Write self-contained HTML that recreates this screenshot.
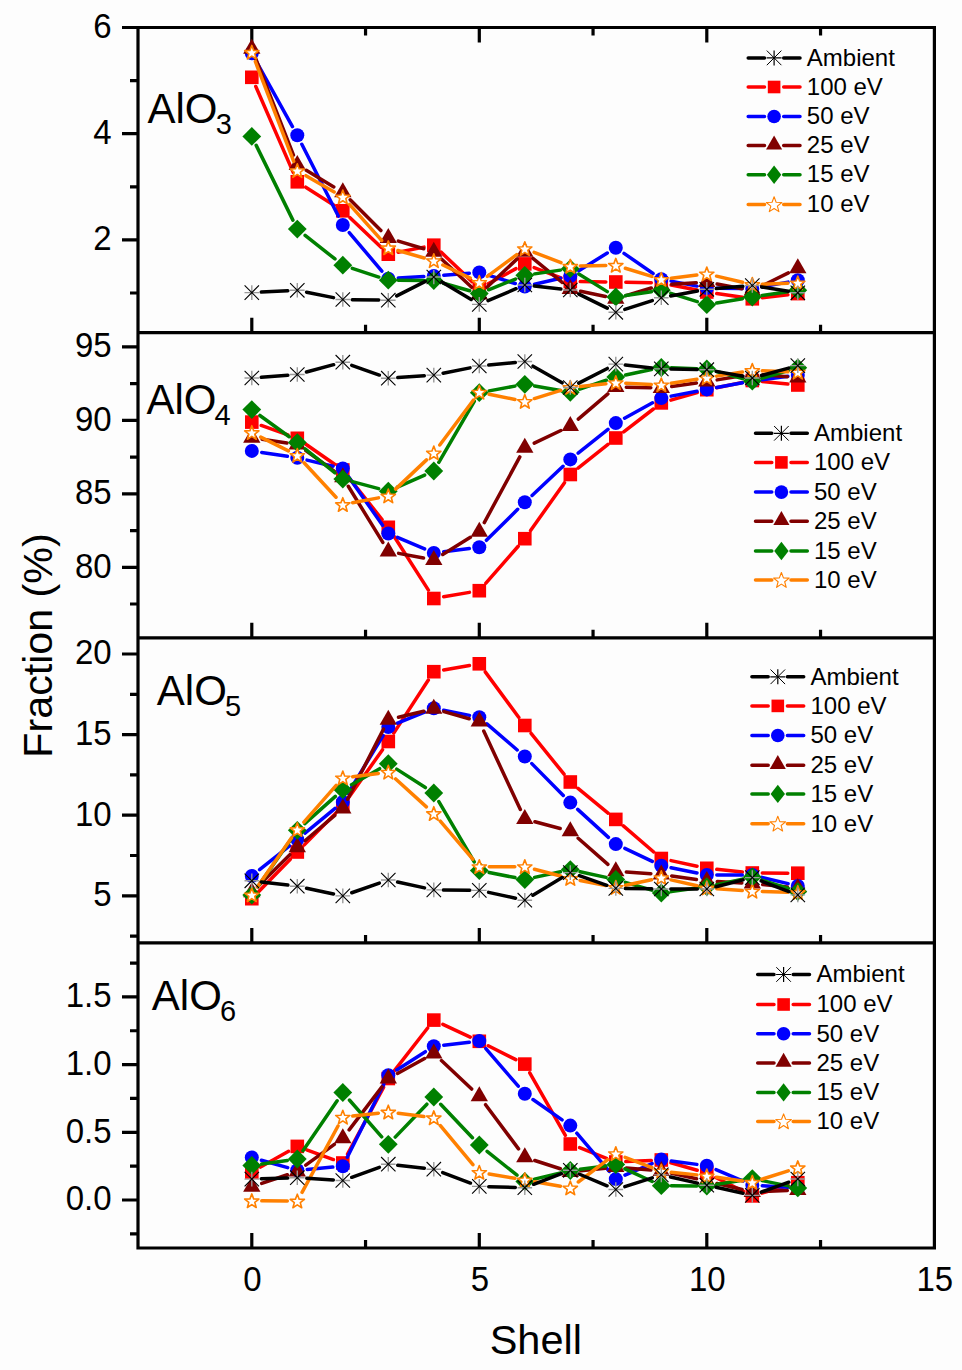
<!DOCTYPE html>
<html><head><meta charset="utf-8"><style>html,body{margin:0;padding:0;background:#fdfdfd;}svg{display:block;}</style></head>
<body><svg width="962" height="1370" viewBox="0 0 962 1370">
<rect width="962" height="1370" fill="#fdfdfd"/>
<path d="M138.0,27.5V1249.5M934.4,26.0V1249.5M136.5,27.5H935.9M136.5,332.7H935.9M136.5,637.8H935.9M136.5,942.9H935.9M136.5,1248.0H935.9M251.80,332.7v-15M479.30,332.7v-15M706.80,332.7v-15M365.55,332.7v-8M593.05,332.7v-8M820.55,332.7v-8M251.80,637.8v-15M479.30,637.8v-15M706.80,637.8v-15M365.55,637.8v-8M593.05,637.8v-8M820.55,637.8v-8M251.80,942.9v-15M479.30,942.9v-15M706.80,942.9v-15M365.55,942.9v-8M593.05,942.9v-8M820.55,942.9v-8M251.80,1248.0v-15M479.30,1248.0v-15M706.80,1248.0v-15M365.55,1248.0v-8M593.05,1248.0v-8M820.55,1248.0v-8M251.80,27.5v15M479.30,27.5v15M706.80,27.5v15M365.55,27.5v8M593.05,27.5v8M820.55,27.5v8M138.0,27.5H122.0M138.0,133.7H122.0M138.0,239.9H122.0M138.0,80.6H130.0M138.0,186.8H130.0M138.0,293.0H130.0M138.0,346.9H122.0M138.0,420.4H122.0M138.0,493.8H122.0M138.0,567.3H122.0M138.0,383.6H130.0M138.0,457.1H130.0M138.0,530.6H130.0M138.0,604.0H130.0M138.0,654.0H122.0M138.0,734.6H122.0M138.0,815.2H122.0M138.0,895.8H122.0M138.0,694.3H130.0M138.0,774.9H130.0M138.0,855.5H130.0M138.0,936.1H130.0M138.0,996.9H122.0M138.0,1064.6H122.0M138.0,1132.3H122.0M138.0,1200.0H122.0M138.0,963.05H130.0M138.0,1030.75H130.0M138.0,1098.45H130.0M138.0,1166.15H130.0M138.0,1233.85H130.0" stroke="#000" stroke-width="3.2" fill="none"/>
<g>
<path d="M255.79,86.47L293.31,172.63M305.73,187.17L334.37,205.43M350.04,217.70L381.06,247.30M398.11,252.26L423.99,247.14M441.04,252.09L472.06,281.61M488.10,283.74L516.00,268.66M534.13,267.51L560.97,277.89M580.30,281.61L605.80,281.89M625.80,282.22L651.30,282.78M671.11,284.94L696.99,290.06M716.69,293.48L742.41,297.32M762.24,297.66L787.86,294.74" stroke="#ff0000" stroke-width="3.5" fill="none" stroke-linecap="round"/>
<rect x="245.00" y="70.50" width="13.60" height="13.60" fill="#ff0000"/>
<rect x="290.50" y="175.00" width="13.60" height="13.60" fill="#ff0000"/>
<rect x="336.00" y="204.00" width="13.60" height="13.60" fill="#ff0000"/>
<rect x="381.50" y="247.40" width="13.60" height="13.60" fill="#ff0000"/>
<rect x="427.00" y="238.40" width="13.60" height="13.60" fill="#ff0000"/>
<rect x="472.50" y="281.70" width="13.60" height="13.60" fill="#ff0000"/>
<rect x="518.00" y="257.10" width="13.60" height="13.60" fill="#ff0000"/>
<rect x="563.50" y="274.70" width="13.60" height="13.60" fill="#ff0000"/>
<rect x="609.00" y="275.20" width="13.60" height="13.60" fill="#ff0000"/>
<rect x="654.50" y="276.20" width="13.60" height="13.60" fill="#ff0000"/>
<rect x="700.00" y="285.20" width="13.60" height="13.60" fill="#ff0000"/>
<rect x="745.50" y="292.00" width="13.60" height="13.60" fill="#ff0000"/>
<rect x="791.00" y="286.80" width="13.60" height="13.60" fill="#ff0000"/>
<path d="M256.65,62.04L292.45,126.56M301.82,144.22L338.28,216.08M349.26,232.63L381.84,271.07M398.28,278.11L423.82,276.59M443.77,275.21L469.33,273.19M488.85,275.36L515.25,283.54M534.54,284.25L560.56,278.25M578.79,270.72L607.31,252.98M624.02,253.39L653.08,273.51M671.12,281.10L696.98,286.10M716.80,288.15L742.30,288.55M762.13,286.88L787.97,282.12" stroke="#0000ff" stroke-width="3.5" fill="none" stroke-linecap="round"/>
<circle cx="251.80" cy="53.30" r="7.00" fill="#0000ff"/>
<circle cx="297.30" cy="135.30" r="7.00" fill="#0000ff"/>
<circle cx="342.80" cy="225.00" r="7.00" fill="#0000ff"/>
<circle cx="388.30" cy="278.70" r="7.00" fill="#0000ff"/>
<circle cx="433.80" cy="276.00" r="7.00" fill="#0000ff"/>
<circle cx="479.30" cy="272.40" r="7.00" fill="#0000ff"/>
<circle cx="524.80" cy="286.50" r="7.00" fill="#0000ff"/>
<circle cx="570.30" cy="276.00" r="7.00" fill="#0000ff"/>
<circle cx="615.80" cy="247.70" r="7.00" fill="#0000ff"/>
<circle cx="661.30" cy="279.20" r="7.00" fill="#0000ff"/>
<circle cx="706.80" cy="288.00" r="7.00" fill="#0000ff"/>
<circle cx="752.30" cy="288.70" r="7.00" fill="#0000ff"/>
<circle cx="797.80" cy="280.30" r="7.00" fill="#0000ff"/>
<path d="M255.63,58.48L293.47,155.12M306.29,170.32L333.81,186.88M350.21,199.74L380.89,230.56M398.35,241.05L423.75,248.75M441.46,258.99L471.64,287.31M486.95,287.31L517.15,258.89M532.92,258.36L562.18,282.34M580.57,291.19L605.53,296.51M625.85,295.67L651.25,288.03M671.78,284.33L696.32,282.77M717.12,284.03L741.98,288.67M761.73,285.98L788.37,272.92" stroke="#800000" stroke-width="3.5" fill="none" stroke-linecap="round"/>
<polygon points="251.80,38.70 260.46,53.70 243.14,53.70" fill="#800000"/>
<polygon points="297.30,154.90 305.96,169.90 288.64,169.90" fill="#800000"/>
<polygon points="342.80,182.30 351.46,197.30 334.14,197.30" fill="#800000"/>
<polygon points="388.30,228.00 396.96,243.00 379.64,243.00" fill="#800000"/>
<polygon points="433.80,241.80 442.46,256.80 425.14,256.80" fill="#800000"/>
<polygon points="479.30,284.50 487.96,299.50 470.64,299.50" fill="#800000"/>
<polygon points="524.80,241.70 533.46,256.70 516.14,256.70" fill="#800000"/>
<polygon points="570.30,279.00 578.96,294.00 561.64,294.00" fill="#800000"/>
<polygon points="615.80,288.70 624.46,303.70 607.14,303.70" fill="#800000"/>
<polygon points="661.30,275.00 669.96,290.00 652.64,290.00" fill="#800000"/>
<polygon points="706.80,272.10 715.46,287.10 698.14,287.10" fill="#800000"/>
<polygon points="752.30,280.60 760.96,295.60 743.64,295.60" fill="#800000"/>
<polygon points="797.80,258.30 806.46,273.30 789.14,273.30" fill="#800000"/>
<path d="M256.21,145.38L292.89,220.12M305.13,235.32L334.97,258.98M352.30,268.33L378.80,277.07M398.30,280.27L423.80,280.43M443.42,283.25L469.68,290.75M488.58,289.79L515.52,279.01M534.70,273.86L560.40,270.14M578.80,273.97L607.30,291.63M625.70,295.46L651.40,291.74M670.83,293.32L697.27,301.68M716.66,303.03L742.44,298.67M762.19,295.52L787.91,291.68" stroke="#008000" stroke-width="3.5" fill="none" stroke-linecap="round"/>
<polygon points="251.80,127.00 261.20,136.40 251.80,145.80 242.40,136.40" fill="#008000"/>
<polygon points="297.30,219.70 306.70,229.10 297.30,238.50 287.90,229.10" fill="#008000"/>
<polygon points="342.80,255.80 352.20,265.20 342.80,274.60 333.40,265.20" fill="#008000"/>
<polygon points="388.30,270.80 397.70,280.20 388.30,289.60 378.90,280.20" fill="#008000"/>
<polygon points="433.80,271.10 443.20,280.50 433.80,289.90 424.40,280.50" fill="#008000"/>
<polygon points="479.30,284.10 488.70,293.50 479.30,302.90 469.90,293.50" fill="#008000"/>
<polygon points="524.80,265.90 534.20,275.30 524.80,284.70 515.40,275.30" fill="#008000"/>
<polygon points="570.30,259.30 579.70,268.70 570.30,278.10 560.90,268.70" fill="#008000"/>
<polygon points="615.80,287.50 625.20,296.90 615.80,306.30 606.40,296.90" fill="#008000"/>
<polygon points="661.30,280.90 670.70,290.30 661.30,299.70 651.90,290.30" fill="#008000"/>
<polygon points="706.80,295.30 716.20,304.70 706.80,314.10 697.40,304.70" fill="#008000"/>
<polygon points="752.30,287.60 761.70,297.00 752.30,306.40 742.90,297.00" fill="#008000"/>
<polygon points="797.80,280.80 807.20,290.20 797.80,299.60 788.40,290.20" fill="#008000"/>
<path d="M255.39,61.63L293.71,161.37M305.96,175.70L334.14,192.00M349.47,204.45L381.63,240.35M397.92,250.53L424.18,257.97M442.83,265.00L470.27,278.10M487.34,276.45L516.76,254.65M534.13,252.31L560.97,262.69M580.30,266.08L605.80,265.52M625.35,268.26L651.75,276.44M671.23,278.20L696.87,275.10M716.54,276.17L742.56,282.23M762.29,284.15L787.81,283.25" stroke="#ff8000" stroke-width="3.5" fill="none" stroke-linecap="round"/>
<polygon points="251.80,45.40 253.65,50.35 258.93,50.58 254.80,53.87 256.21,58.97 251.80,56.05 247.39,58.97 248.80,53.87 244.67,50.58 249.95,50.35" fill="#ffffff" stroke="#ff8000" stroke-width="1.60" stroke-linejoin="round"/>
<polygon points="297.30,163.80 299.15,168.75 304.43,168.98 300.30,172.27 301.71,177.37 297.30,174.45 292.89,177.37 294.30,172.27 290.17,168.98 295.45,168.75" fill="#ffffff" stroke="#ff8000" stroke-width="1.60" stroke-linejoin="round"/>
<polygon points="342.80,190.10 344.65,195.05 349.93,195.28 345.80,198.57 347.21,203.67 342.80,200.75 338.39,203.67 339.80,198.57 335.67,195.28 340.95,195.05" fill="#ffffff" stroke="#ff8000" stroke-width="1.60" stroke-linejoin="round"/>
<polygon points="388.30,240.90 390.15,245.85 395.43,246.08 391.30,249.37 392.71,254.47 388.30,251.55 383.89,254.47 385.30,249.37 381.17,246.08 386.45,245.85" fill="#ffffff" stroke="#ff8000" stroke-width="1.60" stroke-linejoin="round"/>
<polygon points="433.80,253.80 435.65,258.75 440.93,258.98 436.80,262.27 438.21,267.37 433.80,264.45 429.39,267.37 430.80,262.27 426.67,258.98 431.95,258.75" fill="#ffffff" stroke="#ff8000" stroke-width="1.60" stroke-linejoin="round"/>
<polygon points="479.30,275.50 481.15,280.45 486.43,280.68 482.30,283.97 483.71,289.07 479.30,286.15 474.89,289.07 476.30,283.97 472.17,280.68 477.45,280.45" fill="#ffffff" stroke="#ff8000" stroke-width="1.60" stroke-linejoin="round"/>
<polygon points="524.80,241.80 526.65,246.75 531.93,246.98 527.80,250.27 529.21,255.37 524.80,252.45 520.39,255.37 521.80,250.27 517.67,246.98 522.95,246.75" fill="#ffffff" stroke="#ff8000" stroke-width="1.60" stroke-linejoin="round"/>
<polygon points="570.30,259.40 572.15,264.35 577.43,264.58 573.30,267.87 574.71,272.97 570.30,270.05 565.89,272.97 567.30,267.87 563.17,264.58 568.45,264.35" fill="#ffffff" stroke="#ff8000" stroke-width="1.60" stroke-linejoin="round"/>
<polygon points="615.80,258.40 617.65,263.35 622.93,263.58 618.80,266.87 620.21,271.97 615.80,269.05 611.39,271.97 612.80,266.87 608.67,263.58 613.95,263.35" fill="#ffffff" stroke="#ff8000" stroke-width="1.60" stroke-linejoin="round"/>
<polygon points="661.30,272.50 663.15,277.45 668.43,277.68 664.30,280.97 665.71,286.07 661.30,283.15 656.89,286.07 658.30,280.97 654.17,277.68 659.45,277.45" fill="#ffffff" stroke="#ff8000" stroke-width="1.60" stroke-linejoin="round"/>
<polygon points="706.80,267.00 708.65,271.95 713.93,272.18 709.80,275.47 711.21,280.57 706.80,277.65 702.39,280.57 703.80,275.47 699.67,272.18 704.95,271.95" fill="#ffffff" stroke="#ff8000" stroke-width="1.60" stroke-linejoin="round"/>
<polygon points="752.30,277.60 754.15,282.55 759.43,282.78 755.30,286.07 756.71,291.17 752.30,288.25 747.89,291.17 749.30,286.07 745.17,282.78 750.45,282.55" fill="#ffffff" stroke="#ff8000" stroke-width="1.60" stroke-linejoin="round"/>
<polygon points="797.80,276.00 799.65,280.95 804.93,281.18 800.80,284.47 802.21,289.57 797.80,286.65 793.39,289.57 794.80,284.47 790.67,281.18 795.95,280.95" fill="#ffffff" stroke="#ff8000" stroke-width="1.60" stroke-linejoin="round"/>
<path d="M261.29,292.12L287.81,290.78M306.61,292.18L333.49,297.62M352.30,299.65L378.80,300.05M396.76,295.88L425.34,281.32M441.94,281.90L471.16,299.50M488.04,300.67L516.06,288.73M534.24,286.04L560.86,288.96M578.83,294.18L607.27,308.12M624.85,309.40L652.25,300.60M670.64,295.98L697.46,291.02M716.27,288.51L742.83,286.29M761.68,287.00L788.42,291.30" stroke="#000000" stroke-width="3.5" fill="none" stroke-linecap="round"/>
<path d="M244.50,292.60L259.10,292.60M251.80,285.30L251.80,299.90" stroke="#9a9a9a" stroke-width="1.4"/><path d="M244.60,285.40L259.00,299.80M244.60,299.80L259.00,285.40" stroke="#000" stroke-width="1.1"/>
<path d="M290.00,290.30L304.60,290.30M297.30,283.00L297.30,297.60" stroke="#9a9a9a" stroke-width="1.4"/><path d="M290.10,283.10L304.50,297.50M290.10,297.50L304.50,283.10" stroke="#000" stroke-width="1.1"/>
<path d="M335.50,299.50L350.10,299.50M342.80,292.20L342.80,306.80" stroke="#9a9a9a" stroke-width="1.4"/><path d="M335.60,292.30L350.00,306.70M335.60,306.70L350.00,292.30" stroke="#000" stroke-width="1.1"/>
<path d="M381.00,300.20L395.60,300.20M388.30,292.90L388.30,307.50" stroke="#9a9a9a" stroke-width="1.4"/><path d="M381.10,293.00L395.50,307.40M381.10,307.40L395.50,293.00" stroke="#000" stroke-width="1.1"/>
<path d="M426.50,277.00L441.10,277.00M433.80,269.70L433.80,284.30" stroke="#9a9a9a" stroke-width="1.4"/><path d="M426.60,269.80L441.00,284.20M426.60,284.20L441.00,269.80" stroke="#000" stroke-width="1.1"/>
<path d="M472.00,304.40L486.60,304.40M479.30,297.10L479.30,311.70" stroke="#9a9a9a" stroke-width="1.4"/><path d="M472.10,297.20L486.50,311.60M472.10,311.60L486.50,297.20" stroke="#000" stroke-width="1.1"/>
<path d="M517.50,285.00L532.10,285.00M524.80,277.70L524.80,292.30" stroke="#9a9a9a" stroke-width="1.4"/><path d="M517.60,277.80L532.00,292.20M517.60,292.20L532.00,277.80" stroke="#000" stroke-width="1.1"/>
<path d="M563.00,290.00L577.60,290.00M570.30,282.70L570.30,297.30" stroke="#9a9a9a" stroke-width="1.4"/><path d="M563.10,282.80L577.50,297.20M563.10,297.20L577.50,282.80" stroke="#000" stroke-width="1.1"/>
<path d="M608.50,312.30L623.10,312.30M615.80,305.00L615.80,319.60" stroke="#9a9a9a" stroke-width="1.4"/><path d="M608.60,305.10L623.00,319.50M608.60,319.50L623.00,305.10" stroke="#000" stroke-width="1.1"/>
<path d="M654.00,297.70L668.60,297.70M661.30,290.40L661.30,305.00" stroke="#9a9a9a" stroke-width="1.4"/><path d="M654.10,290.50L668.50,304.90M654.10,304.90L668.50,290.50" stroke="#000" stroke-width="1.1"/>
<path d="M699.50,289.30L714.10,289.30M706.80,282.00L706.80,296.60" stroke="#9a9a9a" stroke-width="1.4"/><path d="M699.60,282.10L714.00,296.50M699.60,296.50L714.00,282.10" stroke="#000" stroke-width="1.1"/>
<path d="M745.00,285.50L759.60,285.50M752.30,278.20L752.30,292.80" stroke="#9a9a9a" stroke-width="1.4"/><path d="M745.10,278.30L759.50,292.70M745.10,292.70L759.50,278.30" stroke="#000" stroke-width="1.1"/>
<path d="M790.50,292.80L805.10,292.80M797.80,285.50L797.80,300.10" stroke="#9a9a9a" stroke-width="1.4"/><path d="M790.60,285.60L805.00,300.00M790.60,300.00L805.00,285.60" stroke="#000" stroke-width="1.1"/>
</g>
<g>
<path d="M261.22,425.45L287.88,434.95M305.51,444.02L334.59,464.28M349.02,477.83L382.08,519.47M393.68,535.73L428.42,590.07M443.66,596.81L469.44,592.39M485.89,583.17L518.21,546.23M530.58,530.54L564.52,482.66M578.10,468.24L608.00,444.26M623.72,431.89L653.38,409.01M670.90,400.11L697.20,392.49M716.60,387.72L742.50,382.48M762.25,381.48L787.85,384.02" stroke="#ff0000" stroke-width="3.5" fill="none" stroke-linecap="round"/>
<rect x="245.00" y="415.30" width="13.60" height="13.60" fill="#ff0000"/>
<rect x="290.50" y="431.50" width="13.60" height="13.60" fill="#ff0000"/>
<rect x="336.00" y="463.20" width="13.60" height="13.60" fill="#ff0000"/>
<rect x="381.50" y="520.50" width="13.60" height="13.60" fill="#ff0000"/>
<rect x="427.00" y="591.70" width="13.60" height="13.60" fill="#ff0000"/>
<rect x="472.50" y="583.90" width="13.60" height="13.60" fill="#ff0000"/>
<rect x="518.00" y="531.90" width="13.60" height="13.60" fill="#ff0000"/>
<rect x="563.50" y="467.70" width="13.60" height="13.60" fill="#ff0000"/>
<rect x="609.00" y="431.20" width="13.60" height="13.60" fill="#ff0000"/>
<rect x="654.50" y="396.10" width="13.60" height="13.60" fill="#ff0000"/>
<rect x="700.00" y="382.90" width="13.60" height="13.60" fill="#ff0000"/>
<rect x="745.50" y="373.70" width="13.60" height="13.60" fill="#ff0000"/>
<rect x="791.00" y="378.20" width="13.60" height="13.60" fill="#ff0000"/>
<path d="M261.69,452.40L287.41,456.30M307.03,460.09L333.07,466.21M348.53,476.69L382.57,525.31M397.50,537.42L424.60,548.98M443.73,551.68L469.37,548.52M486.41,540.27L517.69,509.33M532.08,495.44L563.02,466.26M578.12,453.16L607.98,429.34M624.56,418.27L652.54,402.83M671.13,396.14L696.97,391.26M716.63,387.58L742.47,382.82M762.21,379.69L787.89,376.31" stroke="#0000ff" stroke-width="3.5" fill="none" stroke-linecap="round"/>
<circle cx="251.80" cy="450.90" r="7.00" fill="#0000ff"/>
<circle cx="297.30" cy="457.80" r="7.00" fill="#0000ff"/>
<circle cx="342.80" cy="468.50" r="7.00" fill="#0000ff"/>
<circle cx="388.30" cy="533.50" r="7.00" fill="#0000ff"/>
<circle cx="433.80" cy="552.90" r="7.00" fill="#0000ff"/>
<circle cx="479.30" cy="547.30" r="7.00" fill="#0000ff"/>
<circle cx="524.80" cy="502.30" r="7.00" fill="#0000ff"/>
<circle cx="570.30" cy="459.40" r="7.00" fill="#0000ff"/>
<circle cx="615.80" cy="423.10" r="7.00" fill="#0000ff"/>
<circle cx="661.30" cy="398.00" r="7.00" fill="#0000ff"/>
<circle cx="706.80" cy="389.40" r="7.00" fill="#0000ff"/>
<circle cx="752.30" cy="381.00" r="7.00" fill="#0000ff"/>
<circle cx="797.80" cy="375.00" r="7.00" fill="#0000ff"/>
<path d="M262.18,439.25L286.92,442.95M305.82,450.64L334.28,471.16M348.29,486.25L382.81,542.45M398.62,553.35L423.48,558.05M442.72,554.47L470.38,537.33M484.30,522.56L519.80,456.94M534.28,443.18L560.82,430.52M578.27,419.17L607.83,393.83M626.30,387.23L650.80,387.77M671.70,386.54L696.40,383.06M717.16,379.87L741.94,375.73M762.77,374.81L787.33,376.69" stroke="#800000" stroke-width="3.5" fill="none" stroke-linecap="round"/>
<polygon points="251.80,427.70 260.46,442.70 243.14,442.70" fill="#800000"/>
<polygon points="297.30,434.50 305.96,449.50 288.64,449.50" fill="#800000"/>
<polygon points="342.80,467.30 351.46,482.30 334.14,482.30" fill="#800000"/>
<polygon points="388.30,541.40 396.96,556.40 379.64,556.40" fill="#800000"/>
<polygon points="433.80,550.00 442.46,565.00 425.14,565.00" fill="#800000"/>
<polygon points="479.30,521.80 487.96,536.80 470.64,536.80" fill="#800000"/>
<polygon points="524.80,437.70 533.46,452.70 516.14,452.70" fill="#800000"/>
<polygon points="570.30,416.00 578.96,431.00 561.64,431.00" fill="#800000"/>
<polygon points="615.80,377.00 624.46,392.00 607.14,392.00" fill="#800000"/>
<polygon points="661.30,378.00 669.96,393.00 652.64,393.00" fill="#800000"/>
<polygon points="706.80,371.60 715.46,386.60 698.14,386.60" fill="#800000"/>
<polygon points="752.30,364.00 760.96,379.00 743.64,379.00" fill="#800000"/>
<polygon points="797.80,367.50 806.46,382.50 789.14,382.50" fill="#800000"/>
<path d="M259.90,415.47L289.20,436.73M305.10,448.86L335.00,472.84M352.46,481.67L378.64,488.63M397.44,487.14L424.66,475.06M438.82,462.35L474.28,401.35M489.13,390.88L514.97,386.12M534.65,386.03L560.45,390.57M579.78,389.11L606.32,380.19M625.59,374.96L651.51,369.54M671.29,367.83L696.81,368.67M716.47,371.55L742.63,378.45M761.90,378.21L788.20,370.59" stroke="#008000" stroke-width="3.5" fill="none" stroke-linecap="round"/>
<polygon points="251.80,400.20 261.20,409.60 251.80,419.00 242.40,409.60" fill="#008000"/>
<polygon points="297.30,433.20 306.70,442.60 297.30,452.00 287.90,442.60" fill="#008000"/>
<polygon points="342.80,469.70 352.20,479.10 342.80,488.50 333.40,479.10" fill="#008000"/>
<polygon points="388.30,481.80 397.70,491.20 388.30,500.60 378.90,491.20" fill="#008000"/>
<polygon points="433.80,461.60 443.20,471.00 433.80,480.40 424.40,471.00" fill="#008000"/>
<polygon points="479.30,383.30 488.70,392.70 479.30,402.10 469.90,392.70" fill="#008000"/>
<polygon points="524.80,374.90 534.20,384.30 524.80,393.70 515.40,384.30" fill="#008000"/>
<polygon points="570.30,382.90 579.70,392.30 570.30,401.70 560.90,392.30" fill="#008000"/>
<polygon points="615.80,367.60 625.20,377.00 615.80,386.40 606.40,377.00" fill="#008000"/>
<polygon points="661.30,358.10 670.70,367.50 661.30,376.90 651.90,367.50" fill="#008000"/>
<polygon points="706.80,359.60 716.20,369.00 706.80,378.40 697.40,369.00" fill="#008000"/>
<polygon points="752.30,371.60 761.70,381.00 752.30,390.40 742.90,381.00" fill="#008000"/>
<polygon points="797.80,358.40 807.20,367.80 797.80,377.20 788.40,367.80" fill="#008000"/>
<path d="M260.74,437.08L288.36,450.92M304.09,462.74L336.01,497.26M352.63,502.74L378.47,497.86M395.57,489.13L426.53,459.87M439.79,444.99L473.31,400.21M489.10,394.20L515.00,399.50M534.36,398.56L560.74,390.44M580.24,386.45L605.86,383.75M625.79,383.18L651.31,384.42M671.18,383.34L696.92,379.26M716.68,376.14L742.42,372.06M762.29,370.87L787.81,371.83" stroke="#ff8000" stroke-width="3.5" fill="none" stroke-linecap="round"/>
<polygon points="251.80,425.70 253.65,430.65 258.93,430.88 254.80,434.17 256.21,439.27 251.80,436.35 247.39,439.27 248.80,434.17 244.67,430.88 249.95,430.65" fill="#ffffff" stroke="#ff8000" stroke-width="1.60" stroke-linejoin="round"/>
<polygon points="297.30,448.50 299.15,453.45 304.43,453.68 300.30,456.97 301.71,462.07 297.30,459.15 292.89,462.07 294.30,456.97 290.17,453.68 295.45,453.45" fill="#ffffff" stroke="#ff8000" stroke-width="1.60" stroke-linejoin="round"/>
<polygon points="342.80,497.70 344.65,502.65 349.93,502.88 345.80,506.17 347.21,511.27 342.80,508.35 338.39,511.27 339.80,506.17 335.67,502.88 340.95,502.65" fill="#ffffff" stroke="#ff8000" stroke-width="1.60" stroke-linejoin="round"/>
<polygon points="388.30,489.10 390.15,494.05 395.43,494.28 391.30,497.57 392.71,502.67 388.30,499.75 383.89,502.67 385.30,497.57 381.17,494.28 386.45,494.05" fill="#ffffff" stroke="#ff8000" stroke-width="1.60" stroke-linejoin="round"/>
<polygon points="433.80,446.10 435.65,451.05 440.93,451.28 436.80,454.57 438.21,459.67 433.80,456.75 429.39,459.67 430.80,454.57 426.67,451.28 431.95,451.05" fill="#ffffff" stroke="#ff8000" stroke-width="1.60" stroke-linejoin="round"/>
<polygon points="479.30,385.30 481.15,390.25 486.43,390.48 482.30,393.77 483.71,398.87 479.30,395.95 474.89,398.87 476.30,393.77 472.17,390.48 477.45,390.25" fill="#ffffff" stroke="#ff8000" stroke-width="1.60" stroke-linejoin="round"/>
<polygon points="524.80,394.60 526.65,399.55 531.93,399.78 527.80,403.07 529.21,408.17 524.80,405.25 520.39,408.17 521.80,403.07 517.67,399.78 522.95,399.55" fill="#ffffff" stroke="#ff8000" stroke-width="1.60" stroke-linejoin="round"/>
<polygon points="570.30,380.60 572.15,385.55 577.43,385.78 573.30,389.07 574.71,394.17 570.30,391.25 565.89,394.17 567.30,389.07 563.17,385.78 568.45,385.55" fill="#ffffff" stroke="#ff8000" stroke-width="1.60" stroke-linejoin="round"/>
<polygon points="615.80,375.80 617.65,380.75 622.93,380.98 618.80,384.27 620.21,389.37 615.80,386.45 611.39,389.37 612.80,384.27 608.67,380.98 613.95,380.75" fill="#ffffff" stroke="#ff8000" stroke-width="1.60" stroke-linejoin="round"/>
<polygon points="661.30,378.00 663.15,382.95 668.43,383.18 664.30,386.47 665.71,391.57 661.30,388.65 656.89,391.57 658.30,386.47 654.17,383.18 659.45,382.95" fill="#ffffff" stroke="#ff8000" stroke-width="1.60" stroke-linejoin="round"/>
<polygon points="706.80,370.80 708.65,375.75 713.93,375.98 709.80,379.27 711.21,384.37 706.80,381.45 702.39,384.37 703.80,379.27 699.67,375.98 704.95,375.75" fill="#ffffff" stroke="#ff8000" stroke-width="1.60" stroke-linejoin="round"/>
<polygon points="752.30,363.60 754.15,368.55 759.43,368.78 755.30,372.07 756.71,377.17 752.30,374.25 747.89,377.17 749.30,372.07 745.17,368.78 750.45,368.55" fill="#ffffff" stroke="#ff8000" stroke-width="1.60" stroke-linejoin="round"/>
<polygon points="797.80,365.30 799.65,370.25 804.93,370.48 800.80,373.77 802.21,378.87 797.80,375.95 793.39,378.87 794.80,373.77 790.67,370.48 795.95,370.25" fill="#ffffff" stroke="#ff8000" stroke-width="1.60" stroke-linejoin="round"/>
<path d="M261.27,377.27L287.83,375.23M306.47,372.02L333.63,364.68M351.76,365.35L379.34,375.05M397.78,377.55L424.32,375.75M443.12,373.24L469.98,367.86M488.75,365.07L515.35,362.43M533.05,366.21L562.05,382.79M578.75,383.16L607.35,368.44M625.25,365.10L651.85,367.90M670.80,369.07L697.30,369.53M716.15,371.40L742.95,376.30M761.47,375.50L788.63,368.10" stroke="#000000" stroke-width="3.5" fill="none" stroke-linecap="round"/>
<path d="M244.50,378.00L259.10,378.00M251.80,370.70L251.80,385.30" stroke="#9a9a9a" stroke-width="1.4"/><path d="M244.60,370.80L259.00,385.20M244.60,385.20L259.00,370.80" stroke="#000" stroke-width="1.1"/>
<path d="M290.00,374.50L304.60,374.50M297.30,367.20L297.30,381.80" stroke="#9a9a9a" stroke-width="1.4"/><path d="M290.10,367.30L304.50,381.70M290.10,381.70L304.50,367.30" stroke="#000" stroke-width="1.1"/>
<path d="M335.50,362.20L350.10,362.20M342.80,354.90L342.80,369.50" stroke="#9a9a9a" stroke-width="1.4"/><path d="M335.60,355.00L350.00,369.40M335.60,369.40L350.00,355.00" stroke="#000" stroke-width="1.1"/>
<path d="M381.00,378.20L395.60,378.20M388.30,370.90L388.30,385.50" stroke="#9a9a9a" stroke-width="1.4"/><path d="M381.10,371.00L395.50,385.40M381.10,385.40L395.50,371.00" stroke="#000" stroke-width="1.1"/>
<path d="M426.50,375.10L441.10,375.10M433.80,367.80L433.80,382.40" stroke="#9a9a9a" stroke-width="1.4"/><path d="M426.60,367.90L441.00,382.30M426.60,382.30L441.00,367.90" stroke="#000" stroke-width="1.1"/>
<path d="M472.00,366.00L486.60,366.00M479.30,358.70L479.30,373.30" stroke="#9a9a9a" stroke-width="1.4"/><path d="M472.10,358.80L486.50,373.20M472.10,373.20L486.50,358.80" stroke="#000" stroke-width="1.1"/>
<path d="M517.50,361.50L532.10,361.50M524.80,354.20L524.80,368.80" stroke="#9a9a9a" stroke-width="1.4"/><path d="M517.60,354.30L532.00,368.70M517.60,368.70L532.00,354.30" stroke="#000" stroke-width="1.1"/>
<path d="M563.00,387.50L577.60,387.50M570.30,380.20L570.30,394.80" stroke="#9a9a9a" stroke-width="1.4"/><path d="M563.10,380.30L577.50,394.70M563.10,394.70L577.50,380.30" stroke="#000" stroke-width="1.1"/>
<path d="M608.50,364.10L623.10,364.10M615.80,356.80L615.80,371.40" stroke="#9a9a9a" stroke-width="1.4"/><path d="M608.60,356.90L623.00,371.30M608.60,371.30L623.00,356.90" stroke="#000" stroke-width="1.1"/>
<path d="M654.00,368.90L668.60,368.90M661.30,361.60L661.30,376.20" stroke="#9a9a9a" stroke-width="1.4"/><path d="M654.10,361.70L668.50,376.10M654.10,376.10L668.50,361.70" stroke="#000" stroke-width="1.1"/>
<path d="M699.50,369.70L714.10,369.70M706.80,362.40L706.80,377.00" stroke="#9a9a9a" stroke-width="1.4"/><path d="M699.60,362.50L714.00,376.90M699.60,376.90L714.00,362.50" stroke="#000" stroke-width="1.1"/>
<path d="M745.00,378.00L759.60,378.00M752.30,370.70L752.30,385.30" stroke="#9a9a9a" stroke-width="1.4"/><path d="M745.10,370.80L759.50,385.20M745.10,385.20L759.50,370.80" stroke="#000" stroke-width="1.1"/>
<path d="M790.50,365.60L805.10,365.60M797.80,358.30L797.80,372.90" stroke="#9a9a9a" stroke-width="1.4"/><path d="M790.60,358.40L805.00,372.80M790.60,372.80L805.00,358.40" stroke="#000" stroke-width="1.1"/>
</g>
<g>
<path d="M258.78,891.54L290.32,859.16M304.33,844.89L335.77,813.11M348.56,797.83L382.54,749.67M393.76,733.12L428.34,680.08M443.65,669.99L469.45,665.51M485.24,671.85L518.86,717.45M531.07,733.29L564.03,774.21M578.03,788.35L608.07,813.05M623.38,825.92L653.72,851.98M671.08,860.61L697.02,866.19M716.75,869.33L742.35,871.97M762.30,873.04L787.80,873.16" stroke="#ff0000" stroke-width="3.5" fill="none" stroke-linecap="round"/>
<rect x="245.00" y="891.90" width="13.60" height="13.60" fill="#ff0000"/>
<rect x="290.50" y="845.20" width="13.60" height="13.60" fill="#ff0000"/>
<rect x="336.00" y="799.20" width="13.60" height="13.60" fill="#ff0000"/>
<rect x="381.50" y="734.70" width="13.60" height="13.60" fill="#ff0000"/>
<rect x="427.00" y="664.90" width="13.60" height="13.60" fill="#ff0000"/>
<rect x="472.50" y="657.00" width="13.60" height="13.60" fill="#ff0000"/>
<rect x="518.00" y="718.70" width="13.60" height="13.60" fill="#ff0000"/>
<rect x="563.50" y="775.20" width="13.60" height="13.60" fill="#ff0000"/>
<rect x="609.00" y="812.60" width="13.60" height="13.60" fill="#ff0000"/>
<rect x="654.50" y="851.70" width="13.60" height="13.60" fill="#ff0000"/>
<rect x="700.00" y="861.50" width="13.60" height="13.60" fill="#ff0000"/>
<rect x="745.50" y="866.20" width="13.60" height="13.60" fill="#ff0000"/>
<rect x="791.00" y="866.40" width="13.60" height="13.60" fill="#ff0000"/>
<path d="M259.60,869.74L289.50,845.76M305.02,833.14L335.08,808.36M347.99,793.45L383.11,735.55M397.55,723.20L424.55,712.10M443.61,710.24L469.49,715.36M486.88,723.83L517.22,749.97M531.82,763.62L563.28,795.48M577.69,809.34L608.41,837.36M624.83,848.39L652.27,861.41M671.10,867.70L697.00,873.00M716.80,875.00L742.30,875.00M762.02,877.35L788.08,883.65" stroke="#0000ff" stroke-width="3.5" fill="none" stroke-linecap="round"/>
<circle cx="251.80" cy="876.00" r="7.00" fill="#0000ff"/>
<circle cx="297.30" cy="839.50" r="7.00" fill="#0000ff"/>
<circle cx="342.80" cy="802.00" r="7.00" fill="#0000ff"/>
<circle cx="388.30" cy="727.00" r="7.00" fill="#0000ff"/>
<circle cx="433.80" cy="708.30" r="7.00" fill="#0000ff"/>
<circle cx="479.30" cy="717.30" r="7.00" fill="#0000ff"/>
<circle cx="524.80" cy="756.50" r="7.00" fill="#0000ff"/>
<circle cx="570.30" cy="802.60" r="7.00" fill="#0000ff"/>
<circle cx="615.80" cy="844.10" r="7.00" fill="#0000ff"/>
<circle cx="661.30" cy="865.70" r="7.00" fill="#0000ff"/>
<circle cx="706.80" cy="875.00" r="7.00" fill="#0000ff"/>
<circle cx="752.30" cy="875.00" r="7.00" fill="#0000ff"/>
<circle cx="797.80" cy="886.00" r="7.00" fill="#0000ff"/>
<path d="M259.27,884.92L289.83,854.68M305.30,840.50L334.80,815.40M347.59,799.26L383.51,729.14M398.50,717.31L423.60,711.19M443.90,711.56L469.20,718.74M483.74,731.11L520.36,809.49M534.94,821.74L560.16,828.56M578.19,838.23L607.91,864.37M626.28,872.01L650.82,873.69M671.69,875.91L696.41,879.49M717.28,881.58L741.82,882.92M762.75,884.51L787.35,886.89" stroke="#800000" stroke-width="3.5" fill="none" stroke-linecap="round"/>
<polygon points="251.80,882.30 260.46,897.30 243.14,897.30" fill="#800000"/>
<polygon points="297.30,837.30 305.96,852.30 288.64,852.30" fill="#800000"/>
<polygon points="342.80,798.60 351.46,813.60 334.14,813.60" fill="#800000"/>
<polygon points="388.30,709.80 396.96,724.80 379.64,724.80" fill="#800000"/>
<polygon points="433.80,698.70 442.46,713.70 425.14,713.70" fill="#800000"/>
<polygon points="479.30,711.60 487.96,726.60 470.64,726.60" fill="#800000"/>
<polygon points="524.80,809.00 533.46,824.00 516.14,824.00" fill="#800000"/>
<polygon points="570.30,821.30 578.96,836.30 561.64,836.30" fill="#800000"/>
<polygon points="615.80,861.30 624.46,876.30 607.14,876.30" fill="#800000"/>
<polygon points="661.30,864.40 669.96,879.40 652.64,879.40" fill="#800000"/>
<polygon points="706.80,871.00 715.46,886.00 698.14,886.00" fill="#800000"/>
<polygon points="752.30,873.50 760.96,888.50 743.64,888.50" fill="#800000"/>
<polygon points="797.80,877.90 806.46,892.90 789.14,892.90" fill="#800000"/>
<path d="M257.55,886.92L291.55,838.48M304.76,823.64L335.34,796.36M351.48,784.74L379.62,768.66M396.71,769.11L425.39,787.59M438.86,801.63L474.24,861.97M489.11,872.52L514.99,877.58M534.57,877.37L560.53,871.73M580.07,871.73L606.03,877.37M625.39,882.34L651.71,890.16M671.21,891.63L696.89,888.07M716.58,884.61L742.52,879.09M761.82,880.06L788.28,888.54" stroke="#008000" stroke-width="3.5" fill="none" stroke-linecap="round"/>
<polygon points="251.80,885.70 261.20,895.10 251.80,904.50 242.40,895.10" fill="#008000"/>
<polygon points="297.30,820.90 306.70,830.30 297.30,839.70 287.90,830.30" fill="#008000"/>
<polygon points="342.80,780.30 352.20,789.70 342.80,799.10 333.40,789.70" fill="#008000"/>
<polygon points="388.30,754.30 397.70,763.70 388.30,773.10 378.90,763.70" fill="#008000"/>
<polygon points="433.80,783.60 443.20,793.00 433.80,802.40 424.40,793.00" fill="#008000"/>
<polygon points="479.30,861.20 488.70,870.60 479.30,880.00 469.90,870.60" fill="#008000"/>
<polygon points="524.80,870.10 534.20,879.50 524.80,888.90 515.40,879.50" fill="#008000"/>
<polygon points="570.30,860.20 579.70,869.60 570.30,879.00 560.90,869.60" fill="#008000"/>
<polygon points="615.80,870.10 625.20,879.50 615.80,888.90 606.40,879.50" fill="#008000"/>
<polygon points="661.30,883.60 670.70,893.00 661.30,902.40 651.90,893.00" fill="#008000"/>
<polygon points="706.80,877.30 716.20,886.70 706.80,896.10 697.40,886.70" fill="#008000"/>
<polygon points="752.30,867.60 761.70,877.00 752.30,886.40 742.90,877.00" fill="#008000"/>
<polygon points="797.80,882.20 807.20,891.60 797.80,901.00 788.40,891.60" fill="#008000"/>
<path d="M257.52,886.70L291.58,837.80M303.91,822.09L336.19,785.41M352.72,776.66L378.38,773.44M395.70,778.93L426.40,806.87M440.31,821.19L472.79,859.11M489.30,866.70L514.80,866.70M534.48,869.21L560.62,875.99M580.11,880.42L605.99,885.48M625.58,885.31L651.52,879.79M671.05,879.91L697.05,885.79M716.78,888.70L742.32,890.50M762.30,891.51L787.80,892.29" stroke="#ff8000" stroke-width="3.5" fill="none" stroke-linecap="round"/>
<polygon points="251.80,888.00 253.65,892.95 258.93,893.18 254.80,896.47 256.21,901.57 251.80,898.65 247.39,901.57 248.80,896.47 244.67,893.18 249.95,892.95" fill="#ffffff" stroke="#ff8000" stroke-width="1.60" stroke-linejoin="round"/>
<polygon points="297.30,822.70 299.15,827.65 304.43,827.88 300.30,831.17 301.71,836.27 297.30,833.35 292.89,836.27 294.30,831.17 290.17,827.88 295.45,827.65" fill="#ffffff" stroke="#ff8000" stroke-width="1.60" stroke-linejoin="round"/>
<polygon points="342.80,771.00 344.65,775.95 349.93,776.18 345.80,779.47 347.21,784.57 342.80,781.65 338.39,784.57 339.80,779.47 335.67,776.18 340.95,775.95" fill="#ffffff" stroke="#ff8000" stroke-width="1.60" stroke-linejoin="round"/>
<polygon points="388.30,765.30 390.15,770.25 395.43,770.48 391.30,773.77 392.71,778.87 388.30,775.95 383.89,778.87 385.30,773.77 381.17,770.48 386.45,770.25" fill="#ffffff" stroke="#ff8000" stroke-width="1.60" stroke-linejoin="round"/>
<polygon points="433.80,806.70 435.65,811.65 440.93,811.88 436.80,815.17 438.21,820.27 433.80,817.35 429.39,820.27 430.80,815.17 426.67,811.88 431.95,811.65" fill="#ffffff" stroke="#ff8000" stroke-width="1.60" stroke-linejoin="round"/>
<polygon points="479.30,859.80 481.15,864.75 486.43,864.98 482.30,868.27 483.71,873.37 479.30,870.45 474.89,873.37 476.30,868.27 472.17,864.98 477.45,864.75" fill="#ffffff" stroke="#ff8000" stroke-width="1.60" stroke-linejoin="round"/>
<polygon points="524.80,859.80 526.65,864.75 531.93,864.98 527.80,868.27 529.21,873.37 524.80,870.45 520.39,873.37 521.80,868.27 517.67,864.98 522.95,864.75" fill="#ffffff" stroke="#ff8000" stroke-width="1.60" stroke-linejoin="round"/>
<polygon points="570.30,871.60 572.15,876.55 577.43,876.78 573.30,880.07 574.71,885.17 570.30,882.25 565.89,885.17 567.30,880.07 563.17,876.78 568.45,876.55" fill="#ffffff" stroke="#ff8000" stroke-width="1.60" stroke-linejoin="round"/>
<polygon points="615.80,880.50 617.65,885.45 622.93,885.68 618.80,888.97 620.21,894.07 615.80,891.15 611.39,894.07 612.80,888.97 608.67,885.68 613.95,885.45" fill="#ffffff" stroke="#ff8000" stroke-width="1.60" stroke-linejoin="round"/>
<polygon points="661.30,870.80 663.15,875.75 668.43,875.98 664.30,879.27 665.71,884.37 661.30,881.45 656.89,884.37 658.30,879.27 654.17,875.98 659.45,875.75" fill="#ffffff" stroke="#ff8000" stroke-width="1.60" stroke-linejoin="round"/>
<polygon points="706.80,881.10 708.65,886.05 713.93,886.28 709.80,889.57 711.21,894.67 706.80,891.75 702.39,894.67 703.80,889.57 699.67,886.28 704.95,886.05" fill="#ffffff" stroke="#ff8000" stroke-width="1.60" stroke-linejoin="round"/>
<polygon points="752.30,884.30 754.15,889.25 759.43,889.48 755.30,892.77 756.71,897.87 752.30,894.95 747.89,897.87 749.30,892.77 745.17,889.48 750.45,889.25" fill="#ffffff" stroke="#ff8000" stroke-width="1.60" stroke-linejoin="round"/>
<polygon points="797.80,885.70 799.65,890.65 804.93,890.88 800.80,894.17 802.21,899.27 797.80,896.35 793.39,899.27 794.80,894.17 790.67,890.88 795.95,890.65" fill="#ffffff" stroke="#ff8000" stroke-width="1.60" stroke-linejoin="round"/>
<path d="M261.23,881.92L287.87,885.08M306.59,888.18L333.51,893.92M351.77,892.77L379.33,883.13M397.58,882.02L424.52,887.88M443.30,890.00L469.80,890.30M488.59,892.40L515.51,898.20M532.92,895.27L562.18,877.53M579.27,875.72L606.83,885.28M625.30,888.53L651.80,888.87M670.80,889.00L697.30,889.00M716.02,886.69L743.08,879.91M761.18,880.98L788.92,891.52" stroke="#000000" stroke-width="3.5" fill="none" stroke-linecap="round"/>
<path d="M244.50,880.80L259.10,880.80M251.80,873.50L251.80,888.10" stroke="#9a9a9a" stroke-width="1.4"/><path d="M244.60,873.60L259.00,888.00M244.60,888.00L259.00,873.60" stroke="#000" stroke-width="1.1"/>
<path d="M290.00,886.20L304.60,886.20M297.30,878.90L297.30,893.50" stroke="#9a9a9a" stroke-width="1.4"/><path d="M290.10,879.00L304.50,893.40M290.10,893.40L304.50,879.00" stroke="#000" stroke-width="1.1"/>
<path d="M335.50,895.90L350.10,895.90M342.80,888.60L342.80,903.20" stroke="#9a9a9a" stroke-width="1.4"/><path d="M335.60,888.70L350.00,903.10M335.60,903.10L350.00,888.70" stroke="#000" stroke-width="1.1"/>
<path d="M381.00,880.00L395.60,880.00M388.30,872.70L388.30,887.30" stroke="#9a9a9a" stroke-width="1.4"/><path d="M381.10,872.80L395.50,887.20M381.10,887.20L395.50,872.80" stroke="#000" stroke-width="1.1"/>
<path d="M426.50,889.90L441.10,889.90M433.80,882.60L433.80,897.20" stroke="#9a9a9a" stroke-width="1.4"/><path d="M426.60,882.70L441.00,897.10M426.60,897.10L441.00,882.70" stroke="#000" stroke-width="1.1"/>
<path d="M472.00,890.40L486.60,890.40M479.30,883.10L479.30,897.70" stroke="#9a9a9a" stroke-width="1.4"/><path d="M472.10,883.20L486.50,897.60M472.10,897.60L486.50,883.20" stroke="#000" stroke-width="1.1"/>
<path d="M517.50,900.20L532.10,900.20M524.80,892.90L524.80,907.50" stroke="#9a9a9a" stroke-width="1.4"/><path d="M517.60,893.00L532.00,907.40M517.60,907.40L532.00,893.00" stroke="#000" stroke-width="1.1"/>
<path d="M563.00,872.60L577.60,872.60M570.30,865.30L570.30,879.90" stroke="#9a9a9a" stroke-width="1.4"/><path d="M563.10,865.40L577.50,879.80M563.10,879.80L577.50,865.40" stroke="#000" stroke-width="1.1"/>
<path d="M608.50,888.40L623.10,888.40M615.80,881.10L615.80,895.70" stroke="#9a9a9a" stroke-width="1.4"/><path d="M608.60,881.20L623.00,895.60M608.60,895.60L623.00,881.20" stroke="#000" stroke-width="1.1"/>
<path d="M654.00,889.00L668.60,889.00M661.30,881.70L661.30,896.30" stroke="#9a9a9a" stroke-width="1.4"/><path d="M654.10,881.80L668.50,896.20M654.10,896.20L668.50,881.80" stroke="#000" stroke-width="1.1"/>
<path d="M699.50,889.00L714.10,889.00M706.80,881.70L706.80,896.30" stroke="#9a9a9a" stroke-width="1.4"/><path d="M699.60,881.80L714.00,896.20M699.60,896.20L714.00,881.80" stroke="#000" stroke-width="1.1"/>
<path d="M745.00,877.60L759.60,877.60M752.30,870.30L752.30,884.90" stroke="#9a9a9a" stroke-width="1.4"/><path d="M745.10,870.40L759.50,884.80M745.10,884.80L759.50,870.40" stroke="#000" stroke-width="1.1"/>
<path d="M790.50,894.90L805.10,894.90M797.80,887.60L797.80,902.20" stroke="#9a9a9a" stroke-width="1.4"/><path d="M790.60,887.70L805.00,902.10M790.60,902.10L805.00,887.70" stroke="#000" stroke-width="1.1"/>
</g>
<g>
<path d="M260.52,1167.10L288.58,1151.30M306.69,1149.83L333.41,1159.57M347.54,1154.20L383.56,1087.30M394.45,1070.61L427.65,1027.99M442.86,1024.32L470.24,1037.08M488.24,1045.78L515.86,1059.62M529.75,1072.79L565.35,1135.31M579.60,1147.68L606.50,1158.32M625.79,1161.56L651.31,1160.44M670.92,1162.75L697.18,1170.25M715.73,1177.50L743.37,1191.40M761.90,1193.11L788.20,1185.49" stroke="#ff0000" stroke-width="3.5" fill="none" stroke-linecap="round"/>
<rect x="245.00" y="1165.20" width="13.60" height="13.60" fill="#ff0000"/>
<rect x="290.50" y="1139.60" width="13.60" height="13.60" fill="#ff0000"/>
<rect x="336.00" y="1156.20" width="13.60" height="13.60" fill="#ff0000"/>
<rect x="381.50" y="1071.70" width="13.60" height="13.60" fill="#ff0000"/>
<rect x="427.00" y="1013.30" width="13.60" height="13.60" fill="#ff0000"/>
<rect x="472.50" y="1034.50" width="13.60" height="13.60" fill="#ff0000"/>
<rect x="518.00" y="1057.30" width="13.60" height="13.60" fill="#ff0000"/>
<rect x="563.50" y="1137.20" width="13.60" height="13.60" fill="#ff0000"/>
<rect x="609.00" y="1155.20" width="13.60" height="13.60" fill="#ff0000"/>
<rect x="654.50" y="1153.20" width="13.60" height="13.60" fill="#ff0000"/>
<rect x="700.00" y="1166.20" width="13.60" height="13.60" fill="#ff0000"/>
<rect x="745.50" y="1189.10" width="13.60" height="13.60" fill="#ff0000"/>
<rect x="791.00" y="1175.90" width="13.60" height="13.60" fill="#ff0000"/>
<path d="M261.43,1160.21L287.67,1167.59M307.26,1169.40L332.84,1167.10M347.28,1157.26L383.82,1084.24M396.73,1069.93L425.37,1051.67M443.74,1045.16L469.36,1042.24M485.84,1048.67L518.26,1086.23M533.00,1099.53L562.10,1119.87M576.78,1133.22L609.32,1171.48M624.99,1175.16L652.11,1163.54M671.21,1160.93L696.89,1164.37M716.01,1169.60L743.09,1181.10M762.28,1185.66L787.82,1187.34" stroke="#0000ff" stroke-width="3.5" fill="none" stroke-linecap="round"/>
<circle cx="251.80" cy="1157.50" r="7.00" fill="#0000ff"/>
<circle cx="297.30" cy="1170.30" r="7.00" fill="#0000ff"/>
<circle cx="342.80" cy="1166.20" r="7.00" fill="#0000ff"/>
<circle cx="388.30" cy="1075.30" r="7.00" fill="#0000ff"/>
<circle cx="433.80" cy="1046.30" r="7.00" fill="#0000ff"/>
<circle cx="479.30" cy="1041.10" r="7.00" fill="#0000ff"/>
<circle cx="524.80" cy="1093.80" r="7.00" fill="#0000ff"/>
<circle cx="570.30" cy="1125.60" r="7.00" fill="#0000ff"/>
<circle cx="615.80" cy="1179.10" r="7.00" fill="#0000ff"/>
<circle cx="661.30" cy="1159.60" r="7.00" fill="#0000ff"/>
<circle cx="706.80" cy="1165.70" r="7.00" fill="#0000ff"/>
<circle cx="752.30" cy="1185.00" r="7.00" fill="#0000ff"/>
<circle cx="797.80" cy="1188.00" r="7.00" fill="#0000ff"/>
<path d="M261.75,1183.43L287.35,1174.77M305.78,1165.21L334.32,1144.39M349.16,1129.85L381.94,1086.85M397.49,1073.43L424.61,1058.47M441.44,1060.60L471.66,1089.10M485.58,1104.72L518.52,1148.88M534.79,1160.53L560.31,1168.77M580.74,1170.85L605.36,1168.15M626.26,1167.92L650.84,1170.08M671.56,1173.25L696.54,1178.75M717.01,1183.45L742.09,1189.45M762.79,1191.46L787.31,1190.44" stroke="#800000" stroke-width="3.5" fill="none" stroke-linecap="round"/>
<polygon points="251.80,1176.80 260.46,1191.80 243.14,1191.80" fill="#800000"/>
<polygon points="297.30,1161.40 305.96,1176.40 288.64,1176.40" fill="#800000"/>
<polygon points="342.80,1128.20 351.46,1143.20 334.14,1143.20" fill="#800000"/>
<polygon points="388.30,1068.50 396.96,1083.50 379.64,1083.50" fill="#800000"/>
<polygon points="433.80,1043.40 442.46,1058.40 425.14,1058.40" fill="#800000"/>
<polygon points="479.30,1086.30 487.96,1101.30 470.64,1101.30" fill="#800000"/>
<polygon points="524.80,1147.30 533.46,1162.30 516.14,1162.30" fill="#800000"/>
<polygon points="570.30,1162.00 578.96,1177.00 561.64,1177.00" fill="#800000"/>
<polygon points="615.80,1157.00 624.46,1172.00 607.14,1172.00" fill="#800000"/>
<polygon points="661.30,1161.00 669.96,1176.00 652.64,1176.00" fill="#800000"/>
<polygon points="706.80,1171.00 715.46,1186.00 698.14,1186.00" fill="#800000"/>
<polygon points="752.30,1181.90 760.96,1196.90 743.64,1196.90" fill="#800000"/>
<polygon points="797.80,1180.00 806.46,1195.00 789.14,1195.00" fill="#800000"/>
<path d="M261.70,1164.09L287.40,1160.41M302.95,1150.75L337.15,1100.75M349.40,1100.01L381.70,1136.79M395.23,1137.09L426.87,1104.21M440.68,1104.26L472.42,1137.74M487.10,1151.26L517.00,1175.24M534.52,1179.15L560.58,1172.85M580.22,1169.21L605.88,1165.89M624.87,1168.81L652.23,1181.49M671.30,1185.77L696.80,1185.93M716.67,1184.39L742.43,1180.21M762.10,1180.60L788.00,1185.90" stroke="#008000" stroke-width="3.5" fill="none" stroke-linecap="round"/>
<polygon points="251.80,1156.10 261.20,1165.50 251.80,1174.90 242.40,1165.50" fill="#008000"/>
<polygon points="297.30,1149.60 306.70,1159.00 297.30,1168.40 287.90,1159.00" fill="#008000"/>
<polygon points="342.80,1083.10 352.20,1092.50 342.80,1101.90 333.40,1092.50" fill="#008000"/>
<polygon points="388.30,1134.90 397.70,1144.30 388.30,1153.70 378.90,1144.30" fill="#008000"/>
<polygon points="433.80,1087.60 443.20,1097.00 433.80,1106.40 424.40,1097.00" fill="#008000"/>
<polygon points="479.30,1135.60 488.70,1145.00 479.30,1154.40 469.90,1145.00" fill="#008000"/>
<polygon points="524.80,1172.10 534.20,1181.50 524.80,1190.90 515.40,1181.50" fill="#008000"/>
<polygon points="570.30,1161.10 579.70,1170.50 570.30,1179.90 560.90,1170.50" fill="#008000"/>
<polygon points="615.80,1155.20 625.20,1164.60 615.80,1174.00 606.40,1164.60" fill="#008000"/>
<polygon points="661.30,1176.30 670.70,1185.70 661.30,1195.10 651.90,1185.70" fill="#008000"/>
<polygon points="706.80,1176.60 716.20,1186.00 706.80,1195.40 697.40,1186.00" fill="#008000"/>
<polygon points="752.30,1169.20 761.70,1178.60 752.30,1188.00 742.90,1178.60" fill="#008000"/>
<polygon points="797.80,1178.50 807.20,1187.90 797.80,1197.30 788.40,1187.90" fill="#008000"/>
<path d="M261.80,1200.87L287.30,1201.03M302.07,1192.31L338.03,1125.99M352.74,1116.09L378.36,1113.21M398.22,1113.34L423.88,1116.56M440.20,1125.48L472.90,1164.72M489.16,1174.05L514.94,1178.35M534.65,1181.73L560.45,1186.27M578.29,1181.98L607.81,1159.72M625.13,1157.29L651.97,1167.61M671.25,1172.23L696.85,1174.87M716.70,1177.29L742.40,1180.91M761.83,1179.26L788.27,1170.84" stroke="#ff8000" stroke-width="3.5" fill="none" stroke-linecap="round"/>
<polygon points="251.80,1193.90 253.65,1198.85 258.93,1199.08 254.80,1202.37 256.21,1207.47 251.80,1204.55 247.39,1207.47 248.80,1202.37 244.67,1199.08 249.95,1198.85" fill="#ffffff" stroke="#ff8000" stroke-width="1.60" stroke-linejoin="round"/>
<polygon points="297.30,1194.20 299.15,1199.15 304.43,1199.38 300.30,1202.67 301.71,1207.77 297.30,1204.85 292.89,1207.77 294.30,1202.67 290.17,1199.38 295.45,1199.15" fill="#ffffff" stroke="#ff8000" stroke-width="1.60" stroke-linejoin="round"/>
<polygon points="342.80,1110.30 344.65,1115.25 349.93,1115.48 345.80,1118.77 347.21,1123.87 342.80,1120.95 338.39,1123.87 339.80,1118.77 335.67,1115.48 340.95,1115.25" fill="#ffffff" stroke="#ff8000" stroke-width="1.60" stroke-linejoin="round"/>
<polygon points="388.30,1105.20 390.15,1110.15 395.43,1110.38 391.30,1113.67 392.71,1118.77 388.30,1115.85 383.89,1118.77 385.30,1113.67 381.17,1110.38 386.45,1110.15" fill="#ffffff" stroke="#ff8000" stroke-width="1.60" stroke-linejoin="round"/>
<polygon points="433.80,1110.90 435.65,1115.85 440.93,1116.08 436.80,1119.37 438.21,1124.47 433.80,1121.55 429.39,1124.47 430.80,1119.37 426.67,1116.08 431.95,1115.85" fill="#ffffff" stroke="#ff8000" stroke-width="1.60" stroke-linejoin="round"/>
<polygon points="479.30,1165.50 481.15,1170.45 486.43,1170.68 482.30,1173.97 483.71,1179.07 479.30,1176.15 474.89,1179.07 476.30,1173.97 472.17,1170.68 477.45,1170.45" fill="#ffffff" stroke="#ff8000" stroke-width="1.60" stroke-linejoin="round"/>
<polygon points="524.80,1173.10 526.65,1178.05 531.93,1178.28 527.80,1181.57 529.21,1186.67 524.80,1183.75 520.39,1186.67 521.80,1181.57 517.67,1178.28 522.95,1178.05" fill="#ffffff" stroke="#ff8000" stroke-width="1.60" stroke-linejoin="round"/>
<polygon points="570.30,1181.10 572.15,1186.05 577.43,1186.28 573.30,1189.57 574.71,1194.67 570.30,1191.75 565.89,1194.67 567.30,1189.57 563.17,1186.28 568.45,1186.05" fill="#ffffff" stroke="#ff8000" stroke-width="1.60" stroke-linejoin="round"/>
<polygon points="615.80,1146.80 617.65,1151.75 622.93,1151.98 618.80,1155.27 620.21,1160.37 615.80,1157.45 611.39,1160.37 612.80,1155.27 608.67,1151.98 613.95,1151.75" fill="#ffffff" stroke="#ff8000" stroke-width="1.60" stroke-linejoin="round"/>
<polygon points="661.30,1164.30 663.15,1169.25 668.43,1169.48 664.30,1172.77 665.71,1177.87 661.30,1174.95 656.89,1177.87 658.30,1172.77 654.17,1169.48 659.45,1169.25" fill="#ffffff" stroke="#ff8000" stroke-width="1.60" stroke-linejoin="round"/>
<polygon points="706.80,1169.00 708.65,1173.95 713.93,1174.18 709.80,1177.47 711.21,1182.57 706.80,1179.65 702.39,1182.57 703.80,1177.47 699.67,1174.18 704.95,1173.95" fill="#ffffff" stroke="#ff8000" stroke-width="1.60" stroke-linejoin="round"/>
<polygon points="752.30,1175.40 754.15,1180.35 759.43,1180.58 755.30,1183.87 756.71,1188.97 752.30,1186.05 747.89,1188.97 749.30,1183.87 745.17,1180.58 750.45,1180.35" fill="#ffffff" stroke="#ff8000" stroke-width="1.60" stroke-linejoin="round"/>
<polygon points="797.80,1160.90 799.65,1165.85 804.93,1166.08 800.80,1169.37 802.21,1174.47 797.80,1171.55 793.39,1174.47 794.80,1169.37 790.67,1166.08 795.95,1165.85" fill="#ffffff" stroke="#ff8000" stroke-width="1.60" stroke-linejoin="round"/>
<path d="M261.30,1178.81L287.80,1177.99M306.78,1178.28L333.32,1179.92M351.74,1177.30L379.36,1167.40M397.74,1165.24L424.36,1168.16M442.69,1172.56L470.41,1183.04M488.80,1186.67L515.30,1187.43M533.67,1184.31L561.43,1173.69M579.05,1173.99L607.05,1185.81M624.85,1186.60L652.25,1177.80M670.57,1177.00L697.53,1183.10M716.07,1187.28L743.03,1193.32M761.24,1192.18L788.86,1182.22" stroke="#000000" stroke-width="3.5" fill="none" stroke-linecap="round"/>
<path d="M244.50,1179.10L259.10,1179.10M251.80,1171.80L251.80,1186.40" stroke="#9a9a9a" stroke-width="1.4"/><path d="M244.60,1171.90L259.00,1186.30M244.60,1186.30L259.00,1171.90" stroke="#000" stroke-width="1.1"/>
<path d="M290.00,1177.70L304.60,1177.70M297.30,1170.40L297.30,1185.00" stroke="#9a9a9a" stroke-width="1.4"/><path d="M290.10,1170.50L304.50,1184.90M290.10,1184.90L304.50,1170.50" stroke="#000" stroke-width="1.1"/>
<path d="M335.50,1180.50L350.10,1180.50M342.80,1173.20L342.80,1187.80" stroke="#9a9a9a" stroke-width="1.4"/><path d="M335.60,1173.30L350.00,1187.70M335.60,1187.70L350.00,1173.30" stroke="#000" stroke-width="1.1"/>
<path d="M381.00,1164.20L395.60,1164.20M388.30,1156.90L388.30,1171.50" stroke="#9a9a9a" stroke-width="1.4"/><path d="M381.10,1157.00L395.50,1171.40M381.10,1171.40L395.50,1157.00" stroke="#000" stroke-width="1.1"/>
<path d="M426.50,1169.20L441.10,1169.20M433.80,1161.90L433.80,1176.50" stroke="#9a9a9a" stroke-width="1.4"/><path d="M426.60,1162.00L441.00,1176.40M426.60,1176.40L441.00,1162.00" stroke="#000" stroke-width="1.1"/>
<path d="M472.00,1186.40L486.60,1186.40M479.30,1179.10L479.30,1193.70" stroke="#9a9a9a" stroke-width="1.4"/><path d="M472.10,1179.20L486.50,1193.60M472.10,1193.60L486.50,1179.20" stroke="#000" stroke-width="1.1"/>
<path d="M517.50,1187.70L532.10,1187.70M524.80,1180.40L524.80,1195.00" stroke="#9a9a9a" stroke-width="1.4"/><path d="M517.60,1180.50L532.00,1194.90M517.60,1194.90L532.00,1180.50" stroke="#000" stroke-width="1.1"/>
<path d="M563.00,1170.30L577.60,1170.30M570.30,1163.00L570.30,1177.60" stroke="#9a9a9a" stroke-width="1.4"/><path d="M563.10,1163.10L577.50,1177.50M563.10,1177.50L577.50,1163.10" stroke="#000" stroke-width="1.1"/>
<path d="M608.50,1189.50L623.10,1189.50M615.80,1182.20L615.80,1196.80" stroke="#9a9a9a" stroke-width="1.4"/><path d="M608.60,1182.30L623.00,1196.70M608.60,1196.70L623.00,1182.30" stroke="#000" stroke-width="1.1"/>
<path d="M654.00,1174.90L668.60,1174.90M661.30,1167.60L661.30,1182.20" stroke="#9a9a9a" stroke-width="1.4"/><path d="M654.10,1167.70L668.50,1182.10M654.10,1182.10L668.50,1167.70" stroke="#000" stroke-width="1.1"/>
<path d="M699.50,1185.20L714.10,1185.20M706.80,1177.90L706.80,1192.50" stroke="#9a9a9a" stroke-width="1.4"/><path d="M699.60,1178.00L714.00,1192.40M699.60,1192.40L714.00,1178.00" stroke="#000" stroke-width="1.1"/>
<path d="M745.00,1195.40L759.60,1195.40M752.30,1188.10L752.30,1202.70" stroke="#9a9a9a" stroke-width="1.4"/><path d="M745.10,1188.20L759.50,1202.60M745.10,1202.60L759.50,1188.20" stroke="#000" stroke-width="1.1"/>
<path d="M790.50,1179.00L805.10,1179.00M797.80,1171.70L797.80,1186.30" stroke="#9a9a9a" stroke-width="1.4"/><path d="M790.60,1171.80L805.00,1186.20M790.60,1186.20L805.00,1171.80" stroke="#000" stroke-width="1.1"/>
</g>
<text transform="translate(111.6,37.9) scale(1,1.07)" text-anchor="end" font-size="33" font-family="Liberation Sans, sans-serif">6</text>
<text transform="translate(111.6,144.1) scale(1,1.07)" text-anchor="end" font-size="33" font-family="Liberation Sans, sans-serif">4</text>
<text transform="translate(111.6,250.3) scale(1,1.07)" text-anchor="end" font-size="33" font-family="Liberation Sans, sans-serif">2</text>
<text transform="translate(111.6,357.3) scale(1,1.07)" text-anchor="end" font-size="33" font-family="Liberation Sans, sans-serif">95</text>
<text transform="translate(111.6,430.8) scale(1,1.07)" text-anchor="end" font-size="33" font-family="Liberation Sans, sans-serif">90</text>
<text transform="translate(111.6,504.2) scale(1,1.07)" text-anchor="end" font-size="33" font-family="Liberation Sans, sans-serif">85</text>
<text transform="translate(111.6,577.7) scale(1,1.07)" text-anchor="end" font-size="33" font-family="Liberation Sans, sans-serif">80</text>
<text transform="translate(111.6,664.4) scale(1,1.07)" text-anchor="end" font-size="33" font-family="Liberation Sans, sans-serif">20</text>
<text transform="translate(111.6,745.0) scale(1,1.07)" text-anchor="end" font-size="33" font-family="Liberation Sans, sans-serif">15</text>
<text transform="translate(111.6,825.6) scale(1,1.07)" text-anchor="end" font-size="33" font-family="Liberation Sans, sans-serif">10</text>
<text transform="translate(111.6,906.2) scale(1,1.07)" text-anchor="end" font-size="33" font-family="Liberation Sans, sans-serif">5</text>
<text transform="translate(111.6,1007.3) scale(1,1.07)" text-anchor="end" font-size="33" font-family="Liberation Sans, sans-serif">1.5</text>
<text transform="translate(111.6,1075.0) scale(1,1.07)" text-anchor="end" font-size="33" font-family="Liberation Sans, sans-serif">1.0</text>
<text transform="translate(111.6,1142.7) scale(1,1.07)" text-anchor="end" font-size="33" font-family="Liberation Sans, sans-serif">0.5</text>
<text transform="translate(111.6,1210.4) scale(1,1.07)" text-anchor="end" font-size="33" font-family="Liberation Sans, sans-serif">0.0</text>
<text transform="translate(252.3,1291.2) scale(1,1.06)" text-anchor="middle" font-size="33" font-family="Liberation Sans, sans-serif">0</text>
<text transform="translate(479.8,1291.2) scale(1,1.06)" text-anchor="middle" font-size="33" font-family="Liberation Sans, sans-serif">5</text>
<text transform="translate(707.3,1291.2) scale(1,1.06)" text-anchor="middle" font-size="33" font-family="Liberation Sans, sans-serif">10</text>
<text transform="translate(934.8,1291.2) scale(1,1.06)" text-anchor="middle" font-size="33" font-family="Liberation Sans, sans-serif">15</text>
<text x="535.8" y="1353.9" text-anchor="middle" font-size="41.5" font-family="Liberation Sans, sans-serif">Shell</text>
<text transform="translate(51.8,645.5) rotate(-90)" x="0" y="0" text-anchor="middle" font-size="41.2" font-family="Liberation Sans, sans-serif">Fraction (%)</text>
<text x="147.5" y="122.6" font-size="42" font-family="Liberation Sans, sans-serif">AlO<tspan font-size="29" dx="-1.8" dy="11.2">3</tspan></text>
<text x="146.4" y="414.0" font-size="42" font-family="Liberation Sans, sans-serif">AlO<tspan font-size="29" dx="-1.8" dy="11.2">4</tspan></text>
<text x="156.8" y="704.5" font-size="42" font-family="Liberation Sans, sans-serif">AlO<tspan font-size="29" dx="-1.8" dy="11.2">5</tspan></text>
<text x="151.8" y="1009.7" font-size="42" font-family="Liberation Sans, sans-serif">AlO<tspan font-size="29" dx="-1.8" dy="11.2">6</tspan></text>
<path d="M748.2,57.9H764.5M783.7,57.9H800.0" stroke="#000000" stroke-width="3.5" stroke-linecap="round"/>
<path d="M766.60,57.90L781.60,57.90M774.10,50.40L774.10,65.40" stroke="#000" stroke-width="1.2"/><path d="M766.80,50.60L781.40,65.20M766.80,65.20L781.40,50.60" stroke="#000" stroke-width="1.0"/>
<text x="806.8" y="65.6" font-size="24" font-family="Liberation Sans, sans-serif">Ambient</text>
<path d="M748.2,87.0H764.5M783.7,87.0H800.0" stroke="#ff0000" stroke-width="3.5" stroke-linecap="round"/>
<rect x="767.80" y="80.70" width="12.60" height="12.60" fill="#ff0000"/>
<text x="806.8" y="94.7" font-size="24" font-family="Liberation Sans, sans-serif">100 eV</text>
<path d="M748.2,116.5H764.5M783.7,116.5H800.0" stroke="#0000ff" stroke-width="3.5" stroke-linecap="round"/>
<circle cx="774.10" cy="116.50" r="6.80" fill="#0000ff"/>
<text x="806.8" y="124.2" font-size="24" font-family="Liberation Sans, sans-serif">50 eV</text>
<path d="M748.2,145.6H764.5M783.7,145.6H800.0" stroke="#800000" stroke-width="3.5" stroke-linecap="round"/>
<polygon points="774.10,135.50 782.15,149.45 766.05,149.45" fill="#800000"/>
<text x="806.8" y="153.3" font-size="24" font-family="Liberation Sans, sans-serif">25 eV</text>
<path d="M748.2,174.7H764.5M783.7,174.7H800.0" stroke="#008000" stroke-width="3.5" stroke-linecap="round"/>
<polygon points="774.10,165.50 781.30,174.70 774.10,183.90 766.90,174.70" fill="#008000"/>
<text x="806.8" y="182.4" font-size="24" font-family="Liberation Sans, sans-serif">15 eV</text>
<path d="M748.2,204.4H764.5M783.7,204.4H800.0" stroke="#ff8000" stroke-width="3.5" stroke-linecap="round"/>
<polygon points="774.10,196.80 776.12,202.21 781.90,202.47 777.38,206.06 778.92,211.63 774.10,208.44 769.28,211.63 770.82,206.06 766.30,202.47 772.08,202.21" fill="#ffffff" stroke="#ff8000" stroke-width="1.10" stroke-linejoin="round"/>
<text x="806.8" y="212.1" font-size="24" font-family="Liberation Sans, sans-serif">10 eV</text>
<path d="M755.5,433.3H771.8M791.0,433.3H807.3" stroke="#000000" stroke-width="3.5" stroke-linecap="round"/>
<path d="M773.90,433.30L788.90,433.30M781.40,425.80L781.40,440.80" stroke="#000" stroke-width="1.2"/><path d="M774.10,426.00L788.70,440.60M774.10,440.60L788.70,426.00" stroke="#000" stroke-width="1.0"/>
<text x="814.0" y="441.0" font-size="24" font-family="Liberation Sans, sans-serif">Ambient</text>
<path d="M755.5,462.4H771.8M791.0,462.4H807.3" stroke="#ff0000" stroke-width="3.5" stroke-linecap="round"/>
<rect x="775.10" y="456.10" width="12.60" height="12.60" fill="#ff0000"/>
<text x="814.0" y="470.1" font-size="24" font-family="Liberation Sans, sans-serif">100 eV</text>
<path d="M755.5,492.1H771.8M791.0,492.1H807.3" stroke="#0000ff" stroke-width="3.5" stroke-linecap="round"/>
<circle cx="781.40" cy="492.10" r="6.80" fill="#0000ff"/>
<text x="814.0" y="499.8" font-size="24" font-family="Liberation Sans, sans-serif">50 eV</text>
<path d="M755.5,521.2H771.8M791.0,521.2H807.3" stroke="#800000" stroke-width="3.5" stroke-linecap="round"/>
<polygon points="781.40,511.10 789.45,525.05 773.35,525.05" fill="#800000"/>
<text x="814.0" y="528.9" font-size="24" font-family="Liberation Sans, sans-serif">25 eV</text>
<path d="M755.5,551.0H771.8M791.0,551.0H807.3" stroke="#008000" stroke-width="3.5" stroke-linecap="round"/>
<polygon points="781.40,541.80 788.60,551.00 781.40,560.20 774.20,551.00" fill="#008000"/>
<text x="814.0" y="558.7" font-size="24" font-family="Liberation Sans, sans-serif">15 eV</text>
<path d="M755.5,580.1H771.8M791.0,580.1H807.3" stroke="#ff8000" stroke-width="3.5" stroke-linecap="round"/>
<polygon points="781.40,572.50 783.42,577.91 789.20,578.17 784.68,581.76 786.22,587.33 781.40,584.14 776.58,587.33 778.12,581.76 773.60,578.17 779.38,577.91" fill="#ffffff" stroke="#ff8000" stroke-width="1.10" stroke-linejoin="round"/>
<text x="814.0" y="587.8" font-size="24" font-family="Liberation Sans, sans-serif">10 eV</text>
<path d="M751.9,676.8H768.2M787.4,676.8H803.7" stroke="#000000" stroke-width="3.5" stroke-linecap="round"/>
<path d="M770.30,676.80L785.30,676.80M777.80,669.30L777.80,684.30" stroke="#000" stroke-width="1.2"/><path d="M770.50,669.50L785.10,684.10M770.50,684.10L785.10,669.50" stroke="#000" stroke-width="1.0"/>
<text x="810.5" y="684.5" font-size="24" font-family="Liberation Sans, sans-serif">Ambient</text>
<path d="M751.9,705.9H768.2M787.4,705.9H803.7" stroke="#ff0000" stroke-width="3.5" stroke-linecap="round"/>
<rect x="771.50" y="699.60" width="12.60" height="12.60" fill="#ff0000"/>
<text x="810.5" y="713.6" font-size="24" font-family="Liberation Sans, sans-serif">100 eV</text>
<path d="M751.9,735.5H768.2M787.4,735.5H803.7" stroke="#0000ff" stroke-width="3.5" stroke-linecap="round"/>
<circle cx="777.80" cy="735.50" r="6.80" fill="#0000ff"/>
<text x="810.5" y="743.2" font-size="24" font-family="Liberation Sans, sans-serif">50 eV</text>
<path d="M751.9,765.2H768.2M787.4,765.2H803.7" stroke="#800000" stroke-width="3.5" stroke-linecap="round"/>
<polygon points="777.80,755.10 785.85,769.05 769.75,769.05" fill="#800000"/>
<text x="810.5" y="772.9" font-size="24" font-family="Liberation Sans, sans-serif">25 eV</text>
<path d="M751.9,793.9H768.2M787.4,793.9H803.7" stroke="#008000" stroke-width="3.5" stroke-linecap="round"/>
<polygon points="777.80,784.70 785.00,793.90 777.80,803.10 770.60,793.90" fill="#008000"/>
<text x="810.5" y="801.6" font-size="24" font-family="Liberation Sans, sans-serif">15 eV</text>
<path d="M751.9,823.8H768.2M787.4,823.8H803.7" stroke="#ff8000" stroke-width="3.5" stroke-linecap="round"/>
<polygon points="777.80,816.20 779.82,821.61 785.60,821.87 781.08,825.46 782.62,831.03 777.80,827.84 772.98,831.03 774.52,825.46 770.00,821.87 775.78,821.61" fill="#ffffff" stroke="#ff8000" stroke-width="1.10" stroke-linejoin="round"/>
<text x="810.5" y="831.5" font-size="24" font-family="Liberation Sans, sans-serif">10 eV</text>
<path d="M757.7,974.5H774.0M793.2,974.5H809.5" stroke="#000000" stroke-width="3.5" stroke-linecap="round"/>
<path d="M776.10,974.50L791.10,974.50M783.60,967.00L783.60,982.00" stroke="#000" stroke-width="1.2"/><path d="M776.30,967.20L790.90,981.80M776.30,981.80L790.90,967.20" stroke="#000" stroke-width="1.0"/>
<text x="816.5" y="982.2" font-size="24" font-family="Liberation Sans, sans-serif">Ambient</text>
<path d="M757.7,1004.5H774.0M793.2,1004.5H809.5" stroke="#ff0000" stroke-width="3.5" stroke-linecap="round"/>
<rect x="777.30" y="998.20" width="12.60" height="12.60" fill="#ff0000"/>
<text x="816.5" y="1012.2" font-size="24" font-family="Liberation Sans, sans-serif">100 eV</text>
<path d="M757.7,1033.8H774.0M793.2,1033.8H809.5" stroke="#0000ff" stroke-width="3.5" stroke-linecap="round"/>
<circle cx="783.60" cy="1033.80" r="6.80" fill="#0000ff"/>
<text x="816.5" y="1041.5" font-size="24" font-family="Liberation Sans, sans-serif">50 eV</text>
<path d="M757.7,1062.9H774.0M793.2,1062.9H809.5" stroke="#800000" stroke-width="3.5" stroke-linecap="round"/>
<polygon points="783.60,1052.80 791.65,1066.75 775.55,1066.75" fill="#800000"/>
<text x="816.5" y="1070.6" font-size="24" font-family="Liberation Sans, sans-serif">25 eV</text>
<path d="M757.7,1092.4H774.0M793.2,1092.4H809.5" stroke="#008000" stroke-width="3.5" stroke-linecap="round"/>
<polygon points="783.60,1083.20 790.80,1092.40 783.60,1101.60 776.40,1092.40" fill="#008000"/>
<text x="816.5" y="1100.1" font-size="24" font-family="Liberation Sans, sans-serif">15 eV</text>
<path d="M757.7,1121.5H774.0M793.2,1121.5H809.5" stroke="#ff8000" stroke-width="3.5" stroke-linecap="round"/>
<polygon points="783.60,1113.90 785.62,1119.31 791.40,1119.57 786.88,1123.16 788.42,1128.73 783.60,1125.54 778.78,1128.73 780.32,1123.16 775.80,1119.57 781.58,1119.31" fill="#ffffff" stroke="#ff8000" stroke-width="1.10" stroke-linejoin="round"/>
<text x="816.5" y="1129.2" font-size="24" font-family="Liberation Sans, sans-serif">10 eV</text>
</svg></body></html>
